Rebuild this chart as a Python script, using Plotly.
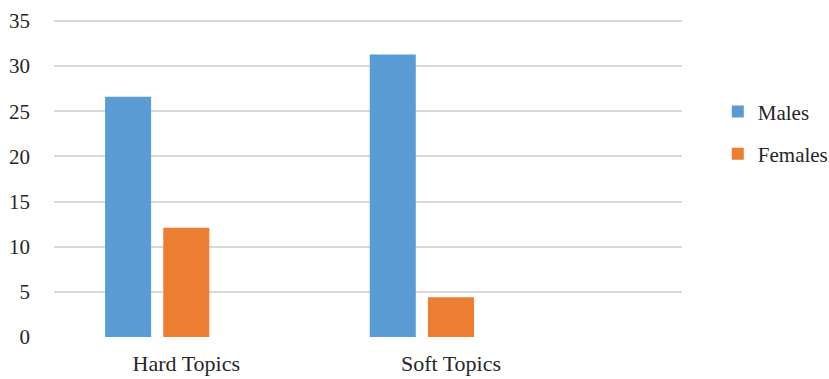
import plotly.graph_objects as go

categories = ["Hard Topics", "Soft Topics"]
males = [26.6, 31.3]
females = [12.1, 4.4]
y_ticks = [0, 5, 10, 15, 20, 25, 30, 35]

FONT = "Liberation Serif"
TXT = "#262626"

fig = go.Figure()
fig.add_trace(go.Bar(
    x=categories, y=males, name="Males",
    marker=dict(color="#5B9BD5", line=dict(width=0)),
    width=0.174, offset=-0.307, legendgroup="m",
))
fig.add_trace(go.Bar(
    x=categories, y=females, name="Females",
    marker=dict(color="#ED7D31", line=dict(width=0)),
    width=0.174, offset=-0.087, legendgroup="f",
))

fig.update_layout(
    width=829, height=379,
    margin=dict(l=54, r=147, t=18, b=42, autoexpand=False),
    paper_bgcolor="white", plot_bgcolor="white",
    font=dict(family=FONT, size=21, color=TXT),
    barmode="overlay",
    legend=dict(
        x=1.057, xanchor="left", y=0.64, yanchor="middle",
        traceorder="grouped", tracegroupgap=12,
        font=dict(family=FONT, size=21, color=TXT),
        itemwidth=30,
    ),
    xaxis=dict(
        type="category", range=[-0.5, 1.873],
        showgrid=False, zeroline=False, showline=False,
        ticks="", ticklabelstandoff=11,
        tickfont=dict(family=FONT, size=22, color=TXT),
        fixedrange=True,
    ),
    yaxis=dict(
        range=[0, 35.33], tickvals=y_ticks,
        showgrid=True, gridcolor="#D9D9D9", gridwidth=1.5,
        zeroline=False, showline=False, ticks="",
        ticklabelstandoff=23,
        tickfont=dict(family=FONT, size=21, color=TXT),
        fixedrange=True,
    ),
)

fig.write_html("out.html")
